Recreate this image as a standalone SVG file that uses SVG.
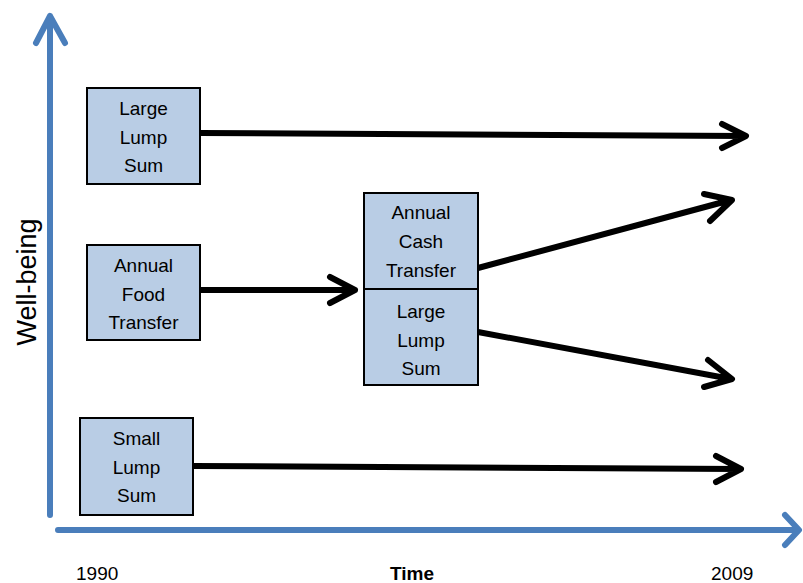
<svg xmlns="http://www.w3.org/2000/svg" width="803" height="583" viewBox="0 0 803 583">
<style>
.box{fill:#B9CDE5;stroke:#000;stroke-width:2}
.t{font-family:"Liberation Sans",Arial,sans-serif;font-size:19px;fill:#000;text-anchor:middle}
.ax{fill:none;stroke:#4A7EBB;stroke-width:6;stroke-linecap:round;stroke-linejoin:round}
.ar{fill:none;stroke:#000;stroke-width:6;stroke-linecap:round;stroke-linejoin:round}
.lbl{font-family:"Liberation Sans",Arial,sans-serif;font-size:19px;fill:#000}
</style>
<rect width="803" height="583" fill="#fff"/>
<g id="axes">
<path class="ax" d="M50,515 V16 M36,43 L50,16 L65,43"/>
<path class="ax" d="M58,530 H798 M785,515 L799,530 L785,545"/>
</g>
<g id="connectors">
<path class="ar" d="M200,133 L745,136 M722,124 L746,136 L722,148"/>
<path class="ar" d="M200,290 L355,290 M330,277 L355,290 L330,303"/>
<path class="ar" d="M478,268 L731,200 M704,194 L732,200 L710,221"/>
<path class="ar" d="M478,332 L731,379 M708,360 L732,379 L704,387"/>
<path class="ar" d="M193,466 L740,469 M716,456 L741,469 L716,482"/>
</g>
<g id="n-large-lump-top">
<rect class="box" x="87" y="88" width="113" height="96"/>
<text class="t" x="143.5" y="115">Large</text>
<text class="t" x="143.5" y="144">Lump</text>
<text class="t" x="143.5" y="172">Sum</text>
</g>
<g id="n-annual-food">
<rect class="box" x="87" y="245" width="113" height="95"/>
<text class="t" x="143.5" y="272">Annual</text>
<text class="t" x="143.5" y="301">Food</text>
<text class="t" x="143.5" y="329">Transfer</text>
</g>
<g id="n-annual-cash">
<rect class="box" x="364" y="193" width="114" height="96"/>
<text class="t" x="421" y="219">Annual</text>
<text class="t" x="421" y="248">Cash</text>
<text class="t" x="421" y="277">Transfer</text>
</g>
<g id="n-large-lump-mid">
<rect class="box" x="364" y="289" width="114" height="96"/>
<text class="t" x="421" y="318">Large</text>
<text class="t" x="421" y="347">Lump</text>
<text class="t" x="421" y="375">Sum</text>
</g>
<g id="n-small-lump">
<rect class="box" x="80" y="418" width="113" height="97"/>
<text class="t" x="136.5" y="445">Small</text>
<text class="t" x="136.5" y="474">Lump</text>
<text class="t" x="136.5" y="502">Sum</text>
</g>
<g id="labels">
<text class="lbl" x="76" y="580">1990</text>
<text class="lbl" x="412" y="580" text-anchor="middle" style="font-weight:bold">Time</text>
<text class="lbl" x="711" y="580">2009</text>
<text class="lbl" transform="translate(36,282) rotate(-90)" text-anchor="middle" style="font-size:27px">Well-being</text>
</g>
</svg>
